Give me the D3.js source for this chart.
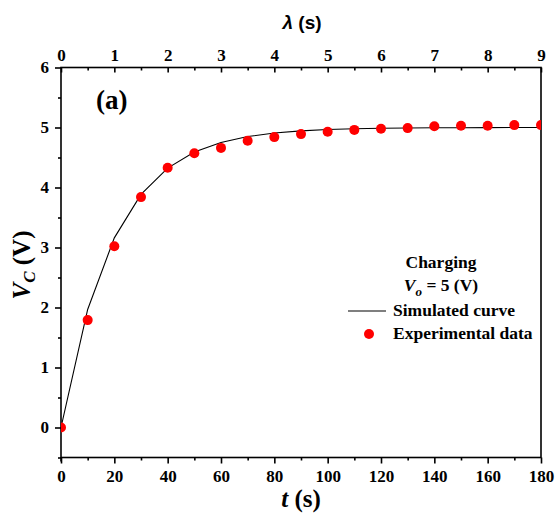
<!DOCTYPE html>
<html>
<head>
<meta charset="utf-8">
<script src="https://cdn.jsdelivr.net/npm/d3@7/dist/d3.min.js"></script>
<style>
  html, body { margin: 0; padding: 0; background: #fff; }
  svg { display: block; }
</style>
</head>
<body>
<svg id="chart" width="555" height="515"></svg>
<script>
// Charging of the capacitor, V_o = 5 V, RC = 20 s
const timeSec = [0, 10, 20, 30, 40, 50, 60, 70, 80, 90, 100, 110, 120, 130, 140, 150, 160, 170, 180];
const measuredV = [0, 1.79, 3.02, 3.84, 4.33, 4.57, 4.66, 4.78, 4.84, 4.89, 4.93, 4.96, 4.98, 4.99, 5.02, 5.03, 5.03, 5.04, 5.04];
const simTime = [0, 10, 20, 30, 40, 50, 60, 70, 80, 90, 100, 110, 120, 130, 140, 150, 160, 170, 180];
const simulatedV = [0, 1.967, 3.161, 3.884, 4.323, 4.590, 4.751, 4.849, 4.908, 4.944, 4.966, 4.980, 4.988, 4.992, 4.995, 4.997, 4.998, 4.999, 5.0];
const tTicks = [0, 20, 40, 60, 80, 100, 120, 140, 160, 180];
const lambdaTicks = [0, 1, 2, 3, 4, 5, 6, 7, 8, 9];
const vTicks = [0, 1, 2, 3, 4, 5, 6];

const SERIF = "'Liberation Serif'";
const SANS = "'Liberation Sans'";

const svg = d3.select("#chart");
const L = 61, R = 541, T = 67.5, B = 457.5;

const x = d3.scaleLinear().domain([0, 180]).range([L, R]);
const xl = d3.scaleLinear().domain([0, 9]).range([L, R]);
const y = d3.scaleLinear().domain([-0.5, 6]).range([B, T]);

svg.append("defs").append("clipPath").attr("id", "plot-clip")
  .append("rect").attr("x", L).attr("y", T).attr("width", R - L).attr("height", B - T);

function label(sel) {
  return sel.style("font-family", SERIF).style("font-weight", "bold").attr("fill", "#000");
}

// frame
svg.append("rect").attr("x", L).attr("y", T).attr("width", R - L).attr("height", B - T)
  .attr("fill", "none").attr("stroke", "#000").attr("stroke-width", 1.6);

function styleAxis(g) {
  g.select(".domain").remove();
  g.attr("font-family", null).attr("font-size", null);
  g.selectAll("line").attr("stroke", "#000").attr("stroke-width", 1.6);
  label(g.selectAll("text")).style("font-size", "17px");
}

// bottom axis: t (s)
svg.append("g").attr("transform", `translate(0,${B})`)
  .call(d3.axisBottom(x).tickValues(tTicks).tickSize(6).tickPadding(6).tickFormat(d3.format("d")))
  .call(styleAxis);
svg.append("g").attr("transform", `translate(0,${B})`)
  .call(d3.axisBottom(x).tickValues(d3.range(10, 180, 20)).tickSize(3).tickFormat(""))
  .call(styleAxis);

// top axis: lambda (s), ticks pointing into the plot
svg.append("g").attr("transform", `translate(0,${T})`)
  .call(d3.axisTop(xl).tickValues(lambdaTicks).tickSize(0).tickPadding(7).tickFormat(d3.format("d")))
  .call(styleAxis);
svg.append("g").attr("transform", `translate(0,${T})`)
  .call(d3.axisBottom(xl).tickValues(lambdaTicks).tickSize(5).tickFormat(""))
  .call(styleAxis);
svg.append("g").attr("transform", `translate(0,${T})`)
  .call(d3.axisBottom(xl).tickValues(d3.range(0.5, 9, 1)).tickSize(3).tickFormat(""))
  .call(styleAxis);

// left axis: V_C (V)
svg.append("g").attr("transform", `translate(${L},0)`)
  .call(d3.axisLeft(y).tickValues(vTicks).tickSize(6).tickPadding(6).tickFormat(d3.format("d")))
  .call(styleAxis);
svg.append("g").attr("transform", `translate(${L},0)`)
  .call(d3.axisLeft(y).tickValues(d3.range(-0.5, 6, 1)).tickSize(3).tickFormat(""))
  .call(styleAxis);
// axis line overshoot below the frame
svg.append("line").attr("x1", L).attr("x2", L).attr("y1", B).attr("y2", B + 4)
  .attr("stroke", "#000").attr("stroke-width", 1.6);

// simulated curve
const plot = svg.append("g").attr("clip-path", "url(#plot-clip)");
plot.append("path")
  .datum(simTime.map((t, i) => [t, simulatedV[i]]))
  .attr("fill", "none").attr("stroke", "#000").attr("stroke-width", 1.1)
  .attr("d", d3.line().x(d => x(d[0])).y(d => y(d[1])));

// experimental points
plot.selectAll("circle.pt")
  .data(timeSec.map((t, i) => [t, measuredV[i]]))
  .join("circle").attr("class", "pt")
  .attr("cx", d => x(d[0])).attr("cy", d => y(d[1])).attr("r", 5)
  .attr("fill", "#ff0000");

// axis titles
const tt = label(svg.append("text")).attr("x", 301).attr("y", 507).attr("text-anchor", "middle").style("font-size", "25px");
tt.append("tspan").style("font-style", "italic").text("t");
tt.append("tspan").text(" (s)");

const lt = svg.append("text").attr("x", 302).attr("y", 29).attr("text-anchor", "middle")
  .style("font-size", "19px").style("font-family", SANS).style("font-weight", "bold");
lt.append("tspan").style("font-style", "italic").text("λ");
lt.append("tspan").text(" (s)");

const yt = label(svg.append("text")).attr("transform", "translate(30,265) rotate(-90)")
  .attr("text-anchor", "middle").style("font-size", "25px");
yt.append("tspan").style("font-style", "italic").text("V");
yt.append("tspan").style("font-style", "italic").style("font-size", "17px").attr("dy", 5).text("C");
yt.append("tspan").attr("dy", -5).text(" (V)");

// panel label
label(svg.append("text")).attr("x", 96).attr("y", 109).style("font-size", "27px").text("(a)");

// legend
label(svg.append("text")).attr("x", 441).attr("y", 268).attr("text-anchor", "middle").style("font-size", "17.5px").text("Charging");
const vo = label(svg.append("text")).attr("x", 441).attr("y", 291).attr("text-anchor", "middle").style("font-size", "17.5px");
vo.append("tspan").style("font-style", "italic").text("V");
vo.append("tspan").style("font-style", "italic").style("font-size", "13px").attr("dy", 5).text("o");
vo.append("tspan").attr("dy", -5).text(" = 5 (V)");

svg.append("line").attr("x1", 348).attr("x2", 386).attr("y1", 311).attr("y2", 311)
  .attr("stroke", "#000").attr("stroke-width", 1.1);
label(svg.append("text")).attr("x", 393).attr("y", 316).style("font-size", "17.5px").text("Simulated curve");
svg.append("circle").attr("cx", 369).attr("cy", 334).attr("r", 5).attr("fill", "#ff0000");
label(svg.append("text")).attr("x", 393).attr("y", 339).style("font-size", "17.5px").text("Experimental data");
</script>
</body>
</html>
